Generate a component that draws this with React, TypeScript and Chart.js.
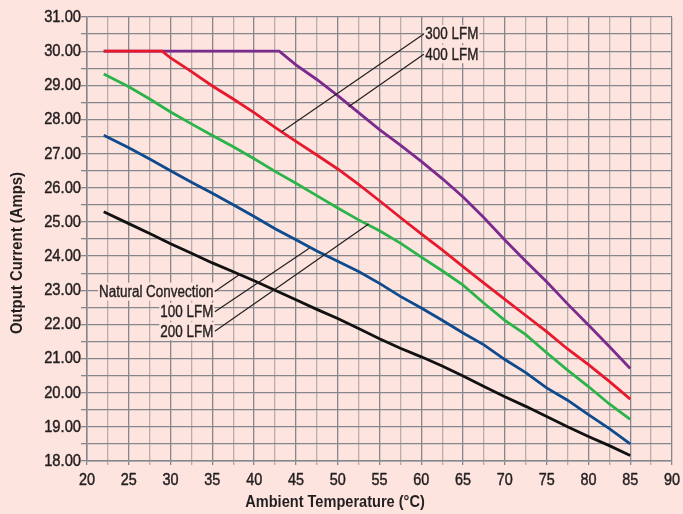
import React, { useEffect, useRef } from 'react';
import { Chart, registerables } from 'chart.js';

Chart.register(...registerables);

// ---- Data ----
const temps = [22, 25, 27.5, 30, 32.5, 35, 37.5, 40, 42.5, 45, 47.5, 50, 52.5, 55, 57.5, 60, 62.5, 65, 67.5, 70, 72.5, 75, 77.5, 80, 82.5, 85];
const naturalConvection = [25.3, 24.95, 24.66, 24.36, 24.08, 23.8, 23.54, 23.28, 23.0, 22.72, 22.44, 22.17, 21.88, 21.58, 21.3, 21.05, 20.78, 20.49, 20.18, 19.88, 19.6, 19.3, 19.0, 18.72, 18.45, 18.16];
const lfm100 = [27.54, 27.17, 26.84, 26.5, 26.16, 25.84, 25.5, 25.16, 24.8, 24.48, 24.15, 23.85, 23.55, 23.2, 22.82, 22.48, 22.12, 21.75, 21.4, 20.97, 20.59, 20.14, 19.78, 19.36, 18.95, 18.5];
const lfm200 = [29.33, 28.96, 28.6, 28.22, 27.87, 27.53, 27.2, 26.85, 26.48, 26.13, 25.77, 25.41, 25.06, 24.74, 24.38, 23.97, 23.57, 23.15, 22.62, 22.12, 21.7, 21.17, 20.66, 20.18, 19.67, 19.22];
const temps300 = [22, 29, 30, 32.5, 35, 37.5, 40, 42.5, 45, 47.5, 50, 52.5, 55, 57.5, 60, 62.5, 65, 67.5, 70, 72.5, 75, 77.5, 80, 82.5, 85];
const lfm300 = [30, 30, 29.8, 29.4, 28.98, 28.6, 28.2, 27.77, 27.36, 26.96, 26.55, 26.1, 25.62, 25.13, 24.65, 24.18, 23.69, 23.21, 22.73, 22.26, 21.79, 21.28, 20.82, 20.33, 19.81];
const temps400 = [22, 43, 45, 47.5, 50, 52.5, 55, 57.5, 60, 62.5, 65, 67.5, 70, 72.5, 75, 77.5, 80, 82.5, 85];
const lfm400 = [30, 30, 29.6, 29.17, 28.7, 28.2, 27.7, 27.25, 26.77, 26.27, 25.73, 25.12, 24.47, 23.85, 23.25, 22.6, 21.98, 21.35, 20.71];

const xMin = 20;
const xMax = 90;
const xStep = 2.5;
const yMin = 18;
const yMax = 31;
const yStep = 0.5;

const xTitle = 'Ambient Temperature (°C)';
const yTitle = 'Output Current (Amps)';

// Callout labels: text anchor (data units) and the curve point they point to
const calloutText = ['300 LFM', '400 LFM', 'Natural Convection', '100 LFM', '200 LFM'];
const calloutAnchorX = [60.3, 60.3, 35.3, 35.3, 35.3];
const calloutAnchorY = [30.5, 29.91, 22.96, 22.37, 21.8];
const calloutTargetX = [43.3, 51.3, 38.3, 46.6, 53.7];
const calloutTargetY = [27.64, 28.37, 23.47, 24.23, 24.94];
const calloutSide = ['left', 'left', 'right', 'right', 'right'];

// ---- Styles ----
const BG = '#fde4df';
const TEXT = '#231f20';
const GRID_MAJOR = '#85878c';
const GRID_MINOR = '#b8acac';
const FONT = '"Liberation Sans", Arial, sans-serif';

const toPoints = (xs: number[], ys: number[]) => xs.map((x, i) => ({ x, y: ys[i] }));

// draw horizontally condensed text (emulates a condensed face)
function condensedText(ctx: any, text: string, x: number, y: number, squeeze: number, align: 'left' | 'right' | 'center', weight = 0) {
  ctx.save();
  ctx.translate(x, y);
  ctx.scale(squeeze, 1);
  ctx.textAlign = align;
  ctx.fillText(text, 0, 0);
  if (weight > 0) {
    ctx.strokeStyle = ctx.fillStyle;
    ctx.lineWidth = weight;
    ctx.lineJoin = 'round';
    ctx.strokeText(text, 0, 0);
  }
  ctx.restore();
}

const decorPlugin = {
  id: 'decor',
  beforeDraw(chart: any) {
    const { ctx, width, height } = chart;
    ctx.save();
    ctx.fillStyle = BG;
    ctx.fillRect(0, 0, width, height);
    ctx.restore();
  },
  afterDatasetsDraw(chart: any) {
    const { ctx, scales } = chart;
    const xs = scales.x;
    const ys = scales.y;
    ctx.save();
    ctx.textBaseline = 'middle';
    ctx.fillStyle = TEXT;

    // tick labels
    ctx.font = `16px ${FONT}`;
    ys.ticks.forEach((t: any) => {
      if (!Number.isInteger(t.value)) return;
      condensedText(ctx, t.value.toFixed(2), xs.left - 6, ys.getPixelForValue(t.value) + 0.5, 0.92, 'right', 0.45);
    });
    xs.ticks.forEach((t: any) => {
      if (t.value % 5 !== 0) return;
      condensedText(ctx, String(t.value), xs.getPixelForValue(t.value), ys.bottom + 20, 0.9, 'center', 0.45);
    });

    // callouts
    ctx.font = `16px ${FONT}`;
    calloutText.forEach((text, i) => {
      const sx = xs.getPixelForValue(calloutAnchorX[i]);
      const sy = ys.getPixelForValue(calloutAnchorY[i]);
      const ex = xs.getPixelForValue(calloutTargetX[i]);
      const ey = ys.getPixelForValue(calloutTargetY[i]);
      const squeeze = 0.84;
      const w = ctx.measureText(text).width * squeeze;
      const gap = 1.5;
      const left = calloutSide[i] === 'left' ? sx + gap : sx - gap - w;
      ctx.fillStyle = BG;
      ctx.fillRect(left - 1, sy - 9, w + 2, 18);
      ctx.fillStyle = TEXT;
      condensedText(ctx, text, left, sy + 1, squeeze, 'left', 0.4);
      ctx.strokeStyle = TEXT;
      ctx.lineWidth = 1.2;
      ctx.beginPath();
      ctx.moveTo(sx, sy);
      ctx.lineTo(ex, ey);
      ctx.stroke();
    });

    // axis titles
    ctx.font = `bold 16px ${FONT}`;
    ctx.fillStyle = TEXT;
    condensedText(ctx, xTitle, 335, 503, 0.91, 'center');
    ctx.translate(18, 253);
    ctx.rotate(-Math.PI / 2);
    condensedText(ctx, yTitle, 0, 0, 0.93, 'center');
    ctx.restore();
  },
};

export default function App() {
  const ref = useRef<HTMLCanvasElement | null>(null);

  useEffect(() => {
    document.body.style.margin = '0';
    const canvas = ref.current;
    if (!canvas) return;
    const mk = (label: string, xs: number[], ys: number[], color: string) => ({
      label,
      data: toPoints(xs, ys),
      borderColor: color,
      backgroundColor: color,
      borderWidth: 2.8,
      pointRadius: 0,
      tension: 0,
      fill: false,
    });
    const chart = new Chart(canvas, {
      type: 'line',
      data: {
        datasets: [
          mk('Natural Convection', temps, naturalConvection, '#111111'),
          mk('100 LFM', temps, lfm100, '#0f4a8c'),
          mk('200 LFM', temps, lfm200, '#2cb34a'),
          mk('300 LFM', temps300, lfm300, '#e8192c'),
          mk('400 LFM', temps400, lfm400, '#7b2a8e'),
        ],
      },
      options: {
        animation: false,
        responsive: false,
        layout: { padding: { top: 17, right: 11, left: 0, bottom: 0 } },
        plugins: { legend: { display: false }, tooltip: { enabled: false } },
        scales: {
          x: {
            type: 'linear',
            min: xMin,
            max: xMax,
            afterFit: (s: any) => { s.height = 53; },
            ticks: {
              stepSize: xStep,
              autoSkip: false,
              maxRotation: 0,
              padding: 0,
              color: 'rgba(0,0,0,0)',
              font: { family: FONT, size: 12 },
              callback: (v: any) => (Number(v) % 5 === 0 ? String(v) : ''),
            },
            grid: {
              color: (c: any) => (c.tick && c.tick.value % 5 === 0 ? GRID_MAJOR : GRID_MINOR),
              lineWidth: 1.3,
              tickLength: 4,
            },
            border: { color: GRID_MAJOR, width: 1.5 },
          },
          y: {
            type: 'linear',
            min: yMin,
            max: yMax,
            afterFit: (s: any) => { s.width = 87; },
            ticks: {
              stepSize: yStep,
              autoSkip: false,
              padding: 0,
              color: 'rgba(0,0,0,0)',
              font: { family: FONT, size: 12 },
              callback: (v: any) => (Number.isInteger(Number(v)) ? Number(v).toFixed(2) : ''),
            },
            grid: {
              color: GRID_MAJOR,
              lineWidth: 1.3,
              tickLength: 6,
            },
            border: { color: GRID_MAJOR, width: 1.5 },
          },
        },
      },
      plugins: [decorPlugin],
    } as any);
    return () => chart.destroy();
  }, []);

  return (
    <div style={{ width: 683, height: 514, background: BG }}>
      <canvas ref={ref} width={683} height={514} style={{ display: 'block' }} />
    </div>
  );
}
